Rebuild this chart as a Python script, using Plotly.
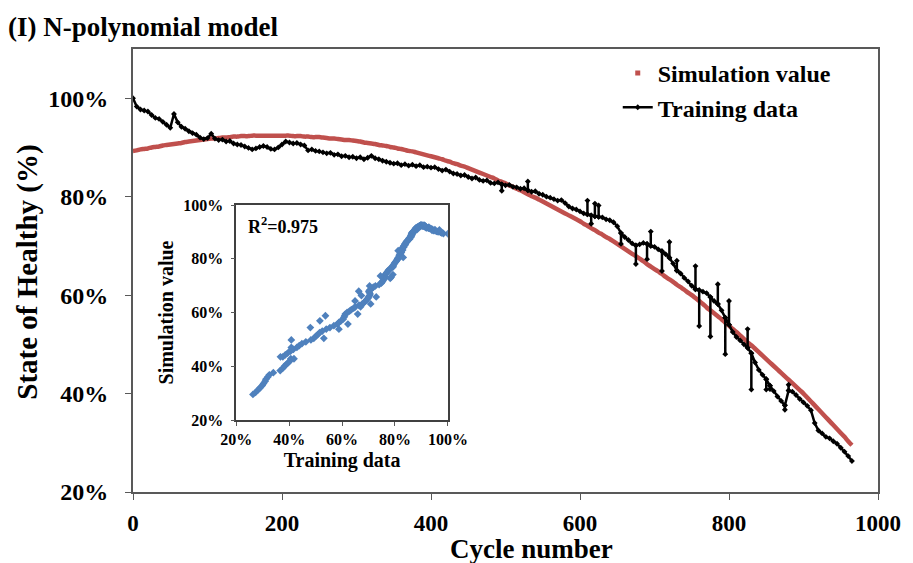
import plotly.graph_objects as go

# ---- data -------------------------------------------------------------
cycles = list(range(0, 970, 5))

soh_training = [
    100.0, 98.3, 97.7, 97.5, 97.3, 96.6, 96.0, 95.8, 95.2, 94.6,
    94.0, 96.8, 95.1, 94.2, 93.8, 93.3, 92.9, 92.6, 92.0, 91.7,
    91.9, 92.8, 91.8, 91.5, 91.6, 91.2, 91.3, 90.8, 90.6, 90.5,
    90.2, 89.9, 89.6, 89.8, 90.1, 90.3, 90.1, 89.7, 89.6, 90.0,
    90.6, 91.2, 91.0, 90.8, 90.9, 90.6, 90.4, 89.4, 89.6, 89.3,
    89.2, 89.0, 88.8, 88.9, 88.5, 88.6, 88.2, 88.3, 88.0, 88.1,
    87.8, 88.0, 87.6, 87.9, 88.3, 87.8, 87.6, 87.3, 87.1, 86.9,
    86.7, 86.8, 86.4, 86.6, 86.3, 86.5, 86.2, 86.4, 86.0, 86.1,
    85.9, 86.0, 85.6, 85.3, 85.5, 85.1, 84.7, 84.6, 84.3, 84.4,
    84.0, 83.7, 83.9, 83.4, 83.2, 83.3, 82.8, 82.7, 82.9, 82.5,
    82.3, 82.4, 82.0, 81.9, 81.6, 81.7, 81.3, 81.0, 81.1, 80.6,
    80.4, 80.0, 79.8, 79.5, 79.2, 79.3, 78.7, 78.0, 77.6, 77.4,
    77.0, 76.6, 76.4, 76.2, 76.0, 75.9, 75.8, 75.4, 75.2, 74.8,
    74.0, 72.6, 71.8, 71.2, 70.5, 70.1, 70.3, 70.6, 70.4, 70.0,
    69.8, 69.3, 68.9, 68.3, 67.6, 66.4, 65.0, 64.4, 63.5, 62.8,
    61.9, 61.2, 61.0, 60.7, 60.4, 59.6, 58.8, 58.2, 56.9, 55.4,
    54.0, 52.5, 51.5, 50.8, 50.0, 49.3, 48.2, 46.3, 44.8, 43.8,
    42.9, 41.6, 40.5, 39.4, 38.5, 37.6, 40.6, 40.4, 39.7, 38.9,
    38.2, 37.5, 36.6, 34.0, 32.5, 31.9, 31.2, 30.9, 30.3, 29.8,
    29.0, 28.2, 27.3, 26.3,
]

soh_simulation = [
    89.3, 89.4, 89.6, 89.7, 89.8, 90.0, 90.1, 90.2, 90.4, 90.5,
    90.6, 90.7, 90.8, 90.9, 91.1, 91.2, 91.3, 91.4, 91.5, 91.6,
    91.7, 91.8, 91.8, 91.9, 92.0, 92.0, 92.1, 92.2, 92.2, 92.3,
    92.3, 92.3, 92.4, 92.4, 92.4, 92.4, 92.4, 92.4, 92.4, 92.4,
    92.4, 92.4, 92.4, 92.3, 92.3, 92.3, 92.2, 92.2, 92.1, 92.1,
    92.1, 92.0, 91.9, 91.8, 91.8, 91.7, 91.6, 91.5, 91.5, 91.4,
    91.3, 91.2, 91.0, 90.9, 90.8, 90.7, 90.5, 90.4, 90.3, 90.1,
    90.0, 89.8, 89.7, 89.5, 89.3, 89.2, 89.0, 88.8, 88.6, 88.4,
    88.2, 88.0, 87.8, 87.6, 87.3, 87.1, 86.8, 86.6, 86.3, 86.1,
    85.8, 85.5, 85.2, 84.9, 84.6, 84.3, 84.0, 83.7, 83.3, 83.0,
    82.7, 82.3, 82.0, 81.6, 81.3, 80.9, 80.5, 80.1, 79.8, 79.4,
    79.0, 78.6, 78.2, 77.8, 77.4, 77.0, 76.6, 76.2, 75.8, 75.4,
    75.0, 74.5, 74.1, 73.6, 73.2, 72.7, 72.3, 71.8, 71.4, 70.9,
    70.4, 69.9, 69.4, 68.9, 68.4, 67.9, 67.4, 66.9, 66.3, 65.8,
    65.3, 64.8, 64.3, 63.7, 63.2, 62.7, 62.1, 61.6, 61.1, 60.5,
    60.0, 59.4, 58.8, 58.2, 57.5, 56.9, 56.3, 55.7, 55.1, 54.4,
    53.8, 53.1, 52.5, 51.8, 51.1, 50.4, 49.8, 49.1, 48.4, 47.7,
    47.0, 46.3, 45.6, 44.9, 44.2, 43.5, 42.8, 42.1, 41.4, 40.7,
    40.0, 39.2, 38.4, 37.6, 36.8, 36.0, 35.2, 34.4, 33.6, 32.8,
    32.0, 31.2, 30.3, 29.5,
]

# single-cycle outliers in the measured capacity
spike_cycles = [495, 530, 610, 615, 620, 625, 655, 675, 690, 695, 710, 720,
                730, 755, 760, 775, 785, 795, 800, 825, 830, 850, 855, 875, 880]
spike_values = [81.2, 83.1, 79.2, 74.5, 78.6, 78.2, 70.4, 66.3, 67.3, 72.9, 64.9, 70.8,
                67.0, 65.9, 53.7, 51.6, 62.2, 48.0, 58.8, 53.1, 40.8, 40.8, 40.9, 36.7, 41.8]

y_ticks = [20, 40, 60, 80, 100]
x_ticks = [0, 200, 400, 600, 800, 1000]
inset_ticks = [20, 40, 60, 80, 100]
r_squared = 0.975

# ---- training series: an outlier is a jump away from and back to its cycle --
sim_at = dict(zip(cycles, soh_simulation))
spikes_at = {}
for c, v in zip(spike_cycles, spike_values):
    spikes_at.setdefault(c, []).append(v)

train_x, train_y = [], []
for c, v in zip(cycles, soh_training):
    train_x.append(c)
    train_y.append(v)
    for s in spikes_at.get(c, []):
        train_x += [c, c]
        train_y += [s, v]

# inset: every measured value (outliers included) against the model output
inset_x = list(soh_training) + list(spike_values)
inset_y = [sim_at[c] for c in cycles] + [sim_at[c] for c in spike_cycles]

FONT = "Liberation Serif"
RED = "#C0504D"
BLUE = "#4F81BD"
AXIS = "#595959"

fig = go.Figure()

# polynomial model output
fig.add_trace(go.Scatter(
    x=cycles, y=soh_simulation, mode="lines",
    line=dict(color=RED, width=4.5, shape="spline"),
    showlegend=False, xaxis="x", yaxis="y",
))
# legend entry for the model output (drawn as point markers)
fig.add_trace(go.Scatter(
    x=[None], y=[None], mode="markers", name="Simulation value",
    marker=dict(color=RED, symbol="square", size=5),
))
# measured capacity
fig.add_trace(go.Scatter(
    x=train_x, y=train_y, mode="lines+markers", name="Training data",
    line=dict(color="black", width=2.5),
    marker=dict(color="black", symbol="diamond", size=4.5),
    xaxis="x", yaxis="y",
))
# inset: model vs measurement
fig.add_trace(go.Scatter(
    x=inset_x, y=inset_y, mode="markers",
    marker=dict(color=BLUE, symbol="diamond", size=6),
    showlegend=False, xaxis="x2", yaxis="y2",
))

tick_font = dict(family=FONT, size=23, color="black", weight="bold")
ytick_font = dict(family=FONT, size=24, color="black", weight="bold")
inset_font = dict(family=FONT, size=16, color="black", weight="bold")
pct = lambda vals: [f"{v}%" for v in vals]

# plot box: x 133..883 px, y 49..492 px
ix0, ix1 = (237 - 133) / 750, (450 - 133) / 750
iy0, iy1 = (492 - 420) / 443, (492 - 205) / 443

fig.update_layout(
    width=913, height=563,
    margin=dict(l=133, r=30, t=49, b=71),
    paper_bgcolor="white", plot_bgcolor="white",
    font=dict(family=FONT, color="black"),
    xaxis=dict(
        domain=[0, 1], range=[0, 1000], tickvals=x_ticks,
        ticktext=[str(v) for v in x_ticks],
        showgrid=False, zeroline=False,
        showline=True, linecolor=AXIS, linewidth=2, mirror=True,
        ticks="outside", ticklen=6, tickcolor=AXIS, tickwidth=1,
        tickfont=tick_font, ticklabelstandoff=3,
    ),
    yaxis=dict(
        domain=[0, 1], range=[20, 110], tickvals=y_ticks, ticktext=pct(y_ticks),
        showgrid=False, zeroline=False,
        showline=True, linecolor=AXIS, linewidth=2, mirror=True,
        ticks="outside", ticklen=6, tickcolor=AXIS, tickwidth=1,
        tickfont=ytick_font, ticklabelstandoff=12,
    ),
    xaxis2=dict(
        domain=[ix0, ix1], anchor="y2", range=[20, 100], tickvals=inset_ticks,
        ticktext=pct(inset_ticks), showgrid=False, zeroline=False,
        showline=True, linecolor="#404040", linewidth=1.5, mirror=True,
        ticks="outside", ticklen=4, tickcolor=AXIS, tickfont=inset_font,
        title=dict(text="Training data", standoff=6,
                   font=dict(family=FONT, size=20, color="black", weight="bold")),
    ),
    yaxis2=dict(
        domain=[iy0, iy1], anchor="x2", range=[20, 100], tickvals=inset_ticks,
        ticktext=pct(inset_ticks), showgrid=False, zeroline=False,
        showline=True, linecolor="#404040", linewidth=1.5, mirror=True,
        ticks="outside", ticklen=4, tickcolor=AXIS, tickfont=inset_font,
        ticklabelstandoff=4,
        title=dict(text="Simulation value", standoff=4,
                   font=dict(family=FONT, size=20, color="black", weight="bold")),
    ),
    legend=dict(
        x=(621 - 133) / 750, y=(492 - 51) / 443, xanchor="left", yanchor="top",
        bgcolor="rgba(0,0,0,0)", borderwidth=0,
        font=dict(family=FONT, size=24, color="black", weight="bold"),
        itemwidth=30, tracegroupgap=0,
    ),
    annotations=[
        dict(text="(I) N-polynomial model", xref="paper", yref="paper",
             x=(5 - 133) / 750, y=(492 - 27) / 443, xanchor="left", yanchor="middle",
             showarrow=False,
             font=dict(family=FONT, size=27, color="black", weight="bold")),
        dict(text="State of Healthy (%)", xref="paper", yref="paper",
             x=(26 - 133) / 750, y=(492 - 272) / 443, xanchor="center", yanchor="middle",
             textangle=-90, showarrow=False,
             font=dict(family=FONT, size=29, color="black", weight="bold")),
        dict(text="Cycle number", xref="paper", yref="paper",
             x=(534 - 133) / 750, y=(492 - 549) / 443, xanchor="center", yanchor="middle",
             showarrow=False,
             font=dict(family=FONT, size=27, color="black", weight="bold")),
        dict(text=f"R<sup>2</sup>={r_squared}", xref="paper", yref="paper",
             x=(247 - 133) / 750, y=(492 - 225) / 443, xanchor="left", yanchor="middle",
             showarrow=False,
             font=dict(family=FONT, size=18, color="black", weight="bold")),
    ],
)

fig.write_html("out.html")
